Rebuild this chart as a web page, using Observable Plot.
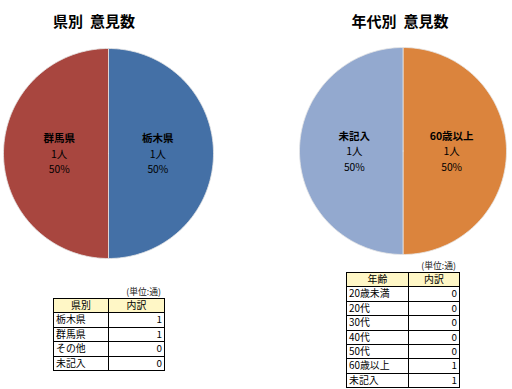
<!DOCTYPE html>
<html><head><meta charset="utf-8">
<script src="https://cdn.jsdelivr.net/npm/d3@7"></script>
<script src="https://cdn.jsdelivr.net/npm/@observablehq/plot@0.6"></script>
<style>
body{margin:0;background:#fff;font-family:"Noto Sans CJK JP",sans-serif;}
#root{position:relative;width:512px;height:389px;overflow:hidden;}
.title{position:absolute;font-weight:bold;font-size:15px;line-height:15px;text-align:center;white-space:pre;color:#000;}
.unit{position:absolute;font-size:8.8px;line-height:9px;text-align:right;color:#222;}
.tbl{position:absolute;border-collapse:collapse;font-size:9.9px;color:#000;}
.tbl td{border:1px solid #000;height:13.4px;padding:0 2px;line-height:13.4px;white-space:nowrap;}
.tbl tr.head td{background:#FFF7C6;text-align:center;}
.tbl td.v{text-align:right;}
.plot{position:absolute;}
</style>
</head><body><div id="root"></div>
<script>
// ---- data ----
const prefTitle = "県別  意見数";
const prefCategories = ["栃木県", "群馬県", "その他", "未記入"];
const prefCounts = [1, 1, 0, 0];
const prefHeader = ["県別", "内訳"];

const ageTitle = "年代別  意見数";
const ageCategories = ["20歳未満", "20代", "30代", "40代", "50代", "60歳以上", "未記入"];
const ageCounts = [0, 0, 0, 0, 0, 1, 1];
const ageHeader = ["年齢", "内訳"];

const unitLabel = "(単位:通)";
const personUnit = "人";

// ---- styles ----
const prefColors = ["#4470A6", "#A8463F", "#8FB152", "#7A5F9F"];
const ageColors = ["#4F81BD", "#C0504D", "#9BBB59", "#8064A2", "#4BACC6", "#DB843D", "#93A9CF"];

const root = document.getElementById("root");

function pieChart(categories, counts, colors, r, cx, cy) {
  const total = d3.sum(counts);
  const arcs = d3.pie().sort(null).value(d => d)(counts);
  const pts = [];
  const labels = [];
  arcs.forEach((a, i) => {
    if (a.value <= 0) return;
    const key = categories[i];
    const n = 120;
    pts.push({key, x: 0, y: 0});
    for (let k = 0; k <= n; k++) {
      const t = a.startAngle + (a.endAngle - a.startAngle) * k / n;
      pts.push({key, x: Math.sin(t), y: Math.cos(t)});
    }
    pts.push({key, x: 0, y: 0});
    const mid = (a.startAngle + a.endAngle) / 2;
    labels.push({
      key,
      x: 0.47 * Math.sin(mid),
      y: 0.47 * Math.cos(mid),
      count: a.value + personUnit,
      pct: Math.round(a.value / total * 100) + "%"
    });
  });
  const m = 2;
  const plot = Plot.plot({
    width: 2 * r + 2 * m,
    height: 2 * r + 2 * m,
    margin: m,
    x: {domain: [-1, 1], axis: null},
    y: {domain: [-1, 1], axis: null},
    color: {domain: categories, range: colors},
    style: {fontFamily: '"Noto Sans CJK JP", sans-serif', background: "transparent", overflow: "visible"},
    marks: [
      Plot.line(pts, {x: "x", y: "y", z: "key", fill: "key", stroke: "#e6e6e6", strokeWidth: 0.8}),
      Plot.text(labels, {x: "x", y: "y", text: "key", dy: -14.5, fontWeight: "bold", fontSize: 10.5, fill: "#000"}),
      Plot.text(labels, {x: "x", y: "y", text: "count", dy: 1, fontSize: 10.5, fill: "#000"}),
      Plot.text(labels, {x: "x", y: "y", text: "pct", dy: 16.5, fontSize: 10.3, fill: "#000"})
    ]
  });
  plot.classList.add("plot");
  plot.style.left = (cx - r - m) + "px";
  plot.style.top = (cy - r - m) + "px";
  root.appendChild(plot);
}

function title(text, cx, cy) {
  const d = document.createElement("div");
  d.className = "title";
  d.textContent = text;
  d.style.left = (cx - 100) + "px";
  d.style.width = "200px";
  d.style.top = (cy - 7.5) + "px";
  root.appendChild(d);
}

function table(header, categories, counts, left, top, w1, w2, unitRight, unitY) {
  const u = document.createElement("div");
  u.className = "unit";
  u.textContent = unitLabel;
  u.style.left = (unitRight - 60) + "px";
  u.style.width = "60px";
  u.style.top = (unitY - 4.5) + "px";
  root.appendChild(u);
  const t = document.createElement("table");
  t.className = "tbl";
  t.style.left = left + "px";
  t.style.top = top + "px";
  const hr = t.insertRow();
  hr.className = "head";
  header.forEach((h, i) => {
    const c = hr.insertCell();
    c.textContent = h;
    c.style.width = (i === 0 ? w1 : w2) + "px";
  });
  categories.forEach((cat, i) => {
    const r = t.insertRow();
    const c1 = r.insertCell();
    c1.textContent = cat;
    const c2 = r.insertCell();
    c2.textContent = counts[i];
    c2.className = "v";
  });
  root.appendChild(t);
}

title(prefTitle, 94, 20);
title(ageTitle, 400, 20);
pieChart(prefCategories, prefCounts, prefColors, 105, 108, 152.5);
pieChart(ageCategories, ageCounts, ageColors, 103.5, 402, 150.5);
table(prefHeader, prefCategories, prefCounts, 53, 298, 50, 51, 161, 291);
table(ageHeader, ageCategories, ageCounts, 346, 272, 57, 46, 456, 265);
</script>
</body></html>
